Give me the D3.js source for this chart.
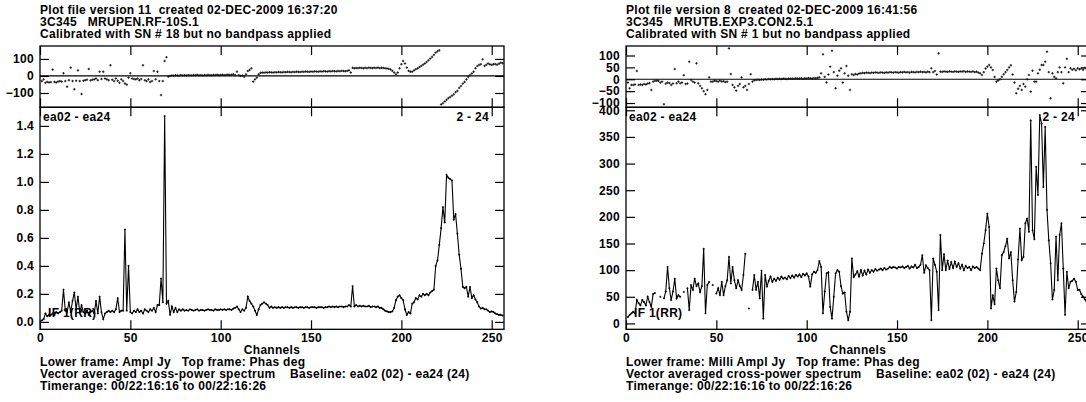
<!DOCTYPE html>
<html>
<head>
<meta charset="utf-8">
<script src="https://cdn.jsdelivr.net/npm/d3@7"></script>
<style>
    body { margin: 0; background: #fff; }
    svg text { font-family: "Liberation Sans", Arial, sans-serif; font-weight: bold; font-size: 12px; letter-spacing: 0.3px; white-space: pre; fill: #000; }
</style>
</head>
<body>
<svg id="chart" width="1086" height="402"></svg>
<script>
// Data
const channelTicks = [0, 50, 100, 150, 200, 250];

const titleLeft = ['Plot file version 11  created 02-DEC-2009 16:37:20', '3C345   MRUPEN.RF-10S.1', 'Calibrated with SN # 18 but no bandpass applied'];
const titleRight = ['Plot file version 8  created 02-DEC-2009 16:41:56', '3C345   MRUTB.EXP3.CON2.5.1', 'Calibrated with SN # 1 but no bandpass applied'];
const footerLeft = ['Lower frame: Ampl Jy   Top frame: Phas deg', 'Vector averaged cross-power spectrum    Baseline: ea02 (02) - ea24 (24)', 'Timerange: 00/22:16:16 to 00/22:16:26'];
const footerRight = ['Lower frame: Milli Ampl Jy   Top frame: Phas deg', 'Vector averaged cross-power spectrum    Baseline: ea02 (02) - ea24 (24)', 'Timerange: 00/22:16:16 to 00/22:16:26'];

const phaseTicksLeft = [-100, 0, 100];
const phaseTicksRight = [-100, -50, 0, 50, 100];
const ampTicksLeft = [0, 0.2, 0.4, 0.6, 0.8, 1.0, 1.2, 1.4];
const ampTicksRight = [0, 50, 100, 150, 200, 250, 300, 350, 400];

// channels 1..256
const ampLeft = [
    0.01, 0.02, 0.06, 0.04, 0.05, 0.05, 0.06, 0.05, 0.07, 0.06,
    0.07, 0.08, 0.23, 0.08, 0.07, 0.14, 0.07, 0.15, 0.21, 0.09,
    0.18, 0.07, 0.12, 0.07, 0.06, 0.08, 0.05, 0.07, 0.08, 0.06,
    0.15, 0.06, 0.18, 0.07, 0.02, 0.06, 0.07, 0.08, 0.07, 0.08,
    0.07, 0.09, 0.17, 0.07, 0.08, 0.08, 0.66, 0.08, 0.40, 0.07,
    0.06, 0.08, 0.07, 0.09, 0.07, 0.08, 0.06, 0.09, 0.08, 0.07,
    0.09, 0.08, 0.10, 0.07, 0.12, 0.12, 0.31, 0.14, 1.47, 0.13,
    0.15, 0.05, 0.11, 0.07, 0.10, 0.07, 0.09, 0.08, 0.09, 0.08,
    0.085, 0.08, 0.09, 0.085, 0.08, 0.085, 0.09, 0.08, 0.085, 0.085,
    0.08, 0.085, 0.09, 0.085, 0.085, 0.08, 0.09, 0.085, 0.085, 0.09,
    0.085, 0.09, 0.085, 0.09, 0.09, 0.085, 0.095, 0.10, 0.11, 0.09,
    0.07, 0.09, 0.08, 0.10, 0.18, 0.15, 0.13, 0.11, 0.08, 0.05,
    0.09, 0.12, 0.13, 0.14, 0.13, 0.12, 0.10, 0.11, 0.10, 0.105,
    0.10, 0.105, 0.10, 0.105, 0.10, 0.105, 0.105, 0.10, 0.105, 0.10,
    0.105, 0.105, 0.10, 0.105, 0.105, 0.10, 0.105, 0.105, 0.10, 0.105,
    0.105, 0.105, 0.10, 0.105, 0.105, 0.105, 0.10, 0.105, 0.105, 0.11,
    0.105, 0.11, 0.105, 0.11, 0.105, 0.11, 0.11, 0.105, 0.11, 0.11,
    0.12, 0.11, 0.255, 0.11, 0.12, 0.11, 0.115, 0.11, 0.115, 0.11,
    0.11, 0.115, 0.105, 0.11, 0.11, 0.105, 0.11, 0.10, 0.10, 0.09,
    0.08, 0.075, 0.07, 0.07, 0.075, 0.10, 0.155, 0.18, 0.19, 0.17,
    0.155, 0.09, 0.05, 0.07, 0.06, 0.13, 0.14, 0.17, 0.16, 0.19,
    0.18, 0.20, 0.19, 0.20, 0.19, 0.21, 0.22, 0.23, 0.40, 0.44,
    0.55, 0.67, 0.82, 0.71, 1.05, 1.03, 1.02, 1.01, 0.73, 0.77,
    0.63, 0.48, 0.38, 0.25, 0.24, 0.25, 0.18, 0.25, 0.17, 0.19,
    0.16, 0.14, 0.11, 0.095, 0.10, 0.09, 0.09, 0.08, 0.07, 0.075,
    0.07, 0.06, 0.055, 0.05, 0.05, 0.045
];

const phaseLeft = [
    -30, -20, -40, -35, -38, -36, 37, -35, -38, -33,
    -30, -33, 16, -30, -63, -25, 49, -30, -78, -28,
    33, -30, -106, -28, -25, -22, 41, -26, -22, -20,
    -15, -25, 25, -18, 25, -15, -20, -25, 63, -22,
    -30, -15, -28, -40, -20, -30, -45, -51, -10, 16,
    -15, -18, -20, -15, -25, -18, 63, -25, -30, -20,
    -35, -30, 29, -20, 25, -30, -112, -30, 88, 110,
    -4, 0, 3, 2, 4, 3, 2, 5, 3, 4,
    3, 5, 4, 3, 5, 4, 6, 4, 5, 3,
    5, 4, 6, 5, 4, 6, 5, 7, 5, 6,
    7, 5, 6, 8, 6, 7, 10, 5, 25, 5,
    0, 3, -5, 10, 29, 35, 45, -33, -20, -10,
    10, 18, 20, 19, 21, 20, 22, 21, 20, 22,
    21, 23, 22, 21, 23, 22, 24, 23, 22, 24,
    23, 25, 24, 23, 25, 24, 26, 25, 24, 26,
    25, 27, 26, 25, 27, 26, 28, 27, 26, 28,
    27, 29, 28, 27, 29, 28, 30, 29, 28, 30,
    33, 20, 48, 45, 47, 46, 48, 47, 45, 48,
    46, 49, 47, 46, 48, 47, 49, 46, 48, 47,
    45, 44, 42, 38, 30, 20, 10, 20, 45, 69,
    88, 73, 49, 30, 25, 25, 33, 40, 45, 52,
    59, 66, 73, 82, 92, 102, 112, 124, 137, 145,
    151, -167, -160, -150, -140, -130, -124, -116, -108, -95,
    -88, -70, -59, -45, -35, -20, -6, 5, 15, 25,
    45, 58, 65, 69, 98, 59, 65, 73, 68, 65,
    69, 70, 66, 72, 78, 75
];

const ampRight = [
    12, 16, 19, 22, 19, 44, 38, 34, 44, 40,
    34, 50, 40, 31, 55, 57, null, null, 50, null,
    47, 60, 106, 66, 44, 60, 84, 47, 53, 50,
    null, 59, null, 66, 25, 72, 63, 84, 70, 75,
    59, 70, 140, 19, 72, 78, null, 72, null, 56,
    66, 53, 78, 53, 70, 81, 125, 75, 106, 81,
    66, 81, 70, 63, 91, 131, null, 28, null, 63,
    91, 63, 78, 47, 99, 9, 91, 69, 80, 88,
    78, 84, 80, 86, 82, 88, 84, 86, 83, 89,
    85, 90, 86, 91, 88, 92, 87, 93, 90, 94,
    88, 69, 92, 97, 95, 100, 117, 106, 19, 60,
    94, 96, 31, 9, 50, 94, 100, 97, 70, 56,
    58, 22, 6, 22, 122, 87, 92, 98, 88, 100,
    90, 99, 92, 101, 95, 100, 97, 102, 99, 101,
    103, 100, 104, 101, 103, 106, 104, 106, 105, 103,
    106, 105, 107, 104, 106, 108, 103, 107, 105, 110,
    104, 106, 110, 128, 95, 109, 104, 100, 6, 122,
    110, 97, 25, 166, 100, 130, 100, 118, 102, 115,
    104, 116, 106, 113, 103, 110, 100, 108, 104, 106,
    100, 107, 104, 106, 103, 100, 131, 150, 175, 206,
    181, 28, 53, 36, 103, 81, 66, 128, 134, 145,
    159, 122, 134, 81, 41, 59, 120, 178, 119, 125,
    188, 197, 172, 381, 175, 158, 294, 241, 391, 375,
    256, 369, 213, 156, 113, 45, 63, 163, 81, 166,
    188, 103, 16, 97, 66, 78, 80, 84, 78, 63,
    63, 55, 50, 45, 40, 38
];

const phaseRight = [
    -14, -38, -24, -24, -22, 35, -24, -22, -24, -20,
    -22, -18, -16, -45, -10, -7, -6, -7, -14, -10,
    -105, -19, -14, -16, -24, -18, 43, -17, -10, -17,
    -14, 17, -20, -18, 74, -3, -10, -14, 67, -17,
    -28, -38, -50, -63, -45, 8, -10, -10, -6, -8,
    -10, -6, -10, -8, -12, -10, 130, 22, -24, -34,
    -48, -28, -20, 8, -34, -28, -45, -20, 21, -10,
    -4, -3, -2, -3, -1, -2, 0, -1, 1, 0,
    1, 0, 2, 1, 2, 1, 3, 2, 1, 3,
    2, 3, 2, 4, 3, 3, 4, 2, 4, 3,
    5, 4, 3, 5, 4, 6, 8, 25, 105, 10,
    -13, 20, 53, 120, 30, -38, 15, 36, 46, -14,
    25, 56, 15, -45, 21, 18, 22, 20, 24, 25,
    27, 26, 28, 27, 26, 28, 27, 29, 28, 27,
    29, 28, 27, 29, 28, 30, 29, 28, 30, 29,
    28, 30, 29, 31, 29, 30, 28, 31, 30, 29,
    31, 30, 32, 30, 31, 29, 32, 30, 46, 30,
    35, 20, 109, 32, 31, 33, 32, 31, 33, 32,
    31, 33, 32, 31, 33, 32, 34, 31, 33, 32,
    31, 33, 30, 32, 28, 25, 18, 30, 45, 53,
    60, 50, 39, 10, -10, -5, 0, 10, 21, 30,
    39, 50, 59, 20, -14, -59, -40, -28, -45, -20,
    -31, 0, 18, -52, 36, -10, -10, 25, 40, 60,
    60, 74, 116, 30, -80, 25, 10, 4, 30, 50,
    30, -17, 50, 86, 30, 46, 40, 44, 38, 46,
    42, 46, 40, 48, 44, 46
];

const channels = d3.range(1, ampLeft.length + 1);

// Layout
const frameW = 464;
const topY = 46, midY = 107.3, botY = 329.3;
const tick = 9;

const panels = [
    { ox: 40, title: titleLeft, footer: footerLeft, amp: ampLeft, phase: phaseLeft,
      ampDomain: [-0.053, 1.533], phaseDomain: [-184, 176],
      ampTicks: ampTicksLeft, phaseTicks: phaseTicksLeft, ampFmt: d3.format('.1f') },
    { ox: 626, title: titleRight, footer: footerRight, amp: ampRight, phase: phaseRight,
      ampDomain: [-11, 405.6], phaseDomain: [-118, 140],
      ampTicks: ampTicksRight, phaseTicks: phaseTicksRight, ampFmt: d3.format('d') }
];

const svg = d3.select('#chart');

function cleanAxis(g) {
    g.select('.domain').remove();
    g.selectAll('.tick line').attr('stroke', '#000').attr('stroke-width', 1.2);
    g.selectAll('text').attr('font-family', null).attr('font-size', null).attr('fill', '#000');
}

panels.forEach((p, i) => {
    const x = d3.scaleLinear().domain([0, 256.8]).range([p.ox, p.ox + frameW]);
    const yPh = d3.scaleLinear().domain(p.phaseDomain).range([midY, topY]);
    const yAmp = d3.scaleLinear().domain(p.ampDomain).range([botY, midY]);
    const g = svg.append('g');

    // clip areas
    const clipTop = 'clip-top-' + i, clipBot = 'clip-bot-' + i;
    const defs = g.append('defs');
    defs.append('clipPath').attr('id', clipTop).append('rect')
        .attr('x', p.ox).attr('y', topY).attr('width', frameW).attr('height', midY - topY);
    defs.append('clipPath').attr('id', clipBot).append('rect')
        .attr('x', p.ox).attr('y', midY).attr('width', frameW).attr('height', botY - midY);

    // titles
    g.selectAll('.title').data(p.title).join('text')
        .attr('x', p.ox).attr('y', (d, k) => 14 + k * 12).text(d => d);

    // x ticks on every frame edge
    g.append('g').attr('transform', `translate(0,${topY})`)
        .call(d3.axisTop(x).tickValues(channelTicks).tickSize(-tick).tickFormat(''))
        .call(cleanAxis);
    g.append('g').attr('transform', `translate(0,${midY})`)
        .call(d3.axisBottom(x).tickValues(channelTicks).tickSize(-tick).tickFormat(''))
        .call(cleanAxis);
    g.append('g').attr('transform', `translate(0,${midY})`)
        .call(d3.axisTop(x).tickValues(channelTicks).tickSize(-tick).tickFormat(''))
        .call(cleanAxis);
    g.append('g').attr('transform', `translate(0,${botY})`)
        .call(d3.axisBottom(x).tickValues(channelTicks).tickSize(-tick).tickPadding(4))
        .call(cleanAxis);

    // y axes
    g.append('g').attr('transform', `translate(${p.ox},0)`)
        .call(d3.axisLeft(yPh).tickValues(p.phaseTicks).tickSize(-tick).tickPadding(6))
        .call(cleanAxis);
    g.append('g').attr('transform', `translate(${p.ox + frameW},0)`)
        .call(d3.axisRight(yPh).tickValues(p.phaseTicks).tickSize(-tick).tickFormat(''))
        .call(cleanAxis);
    g.append('g').attr('transform', `translate(${p.ox},0)`)
        .call(d3.axisLeft(yAmp).tickValues(p.ampTicks).tickSize(-tick).tickPadding(6).tickFormat(p.ampFmt))
        .call(cleanAxis);
    g.append('g').attr('transform', `translate(${p.ox + frameW},0)`)
        .call(d3.axisRight(yAmp).tickValues(p.ampTicks).tickSize(-tick).tickFormat(''))
        .call(cleanAxis);

    // frames
    g.append('rect').attr('x', p.ox).attr('y', topY).attr('width', frameW).attr('height', midY - topY)
        .attr('fill', 'none').attr('stroke', '#000').attr('stroke-width', 1.3);
    g.append('rect').attr('x', p.ox).attr('y', midY).attr('width', frameW).attr('height', botY - midY)
        .attr('fill', 'none').attr('stroke', '#000').attr('stroke-width', 1.3);

    // zero phase line
    g.append('line').attr('x1', p.ox).attr('x2', p.ox + frameW)
        .attr('y1', yPh(0)).attr('y2', yPh(0)).attr('stroke', '#000').attr('stroke-width', 1.2);

    // phase points
    g.append('g').attr('clip-path', `url(#${clipTop})`)
        .selectAll('path').data(channels).join('path')
        .attr('d', c => `M${x(c) - 1.2},${yPh(p.phase[c - 1])}h2.4M${x(c)},${yPh(p.phase[c - 1]) - 1.2}v2.4`)
        .attr('stroke', '#111').attr('stroke-width', 0.9);

    // amplitude spectrum
    const line = d3.line()
        .defined(c => p.amp[c - 1] !== null)
        .x(c => x(c))
        .y(c => yAmp(p.amp[c - 1]));
    const lower = g.append('g').attr('clip-path', `url(#${clipBot})`);
    lower.append('path').attr('d', line(channels))
        .attr('fill', 'none').attr('stroke', '#000').attr('stroke-width', 1.1);
    lower.selectAll('.pt').data(channels.filter(c => p.amp[c - 1] !== null)).join('path')
        .attr('d', c => `M${x(c) - 1},${yAmp(p.amp[c - 1])}h2M${x(c)},${yAmp(p.amp[c - 1]) - 1}v2`)
        .attr('stroke', '#000').attr('stroke-width', 0.9);

    // frame labels
    g.append('text').attr('x', p.ox + 3).attr('y', 121).text('ea02 - ea24');
    g.append('text').attr('x', p.ox + 449).attr('y', 121).attr('text-anchor', 'end').text('2 - 24');
    g.append('text').attr('x', p.ox + 8).attr('y', 317).text('IF 1(RR)');

    // x title and footer
    g.append('text').attr('x', p.ox + frameW / 2).attr('y', 354).attr('text-anchor', 'middle').text('Channels');
    g.selectAll('.foot').data(p.footer).join('text')
        .attr('x', p.ox).attr('y', (d, k) => 366 + k * 12).text(d => d);
});
</script>
</body>
</html>
